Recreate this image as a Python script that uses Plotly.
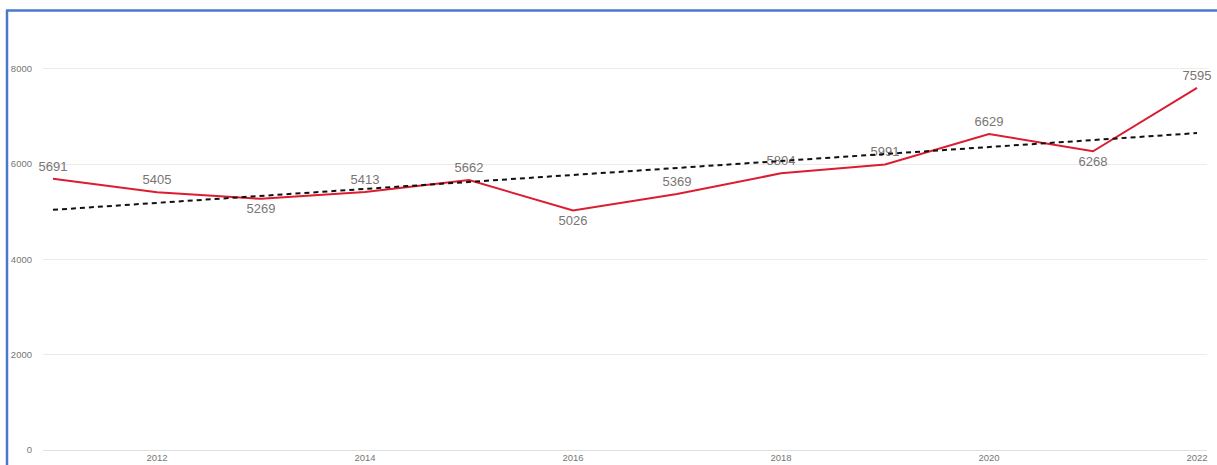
import numpy as np
import plotly.graph_objects as go

years = [2011, 2012, 2013, 2014, 2015, 2016, 2017, 2018, 2019, 2020, 2021, 2022]
values = [5691, 5405, 5269, 5413, 5662, 5026, 5369, 5804, 5991, 6629, 6268, 7595]
label_pos = ["top center", "top center", "bottom center", "top center", "top center",
             "bottom center", "top center", "top center", "top center", "top center",
             "bottom center", "top center"]
x_ticks = [2012, 2014, 2016, 2018, 2020, 2022]
y_ticks = [0, 2000, 4000, 6000, 8000]

# linear trend line (least squares over the series)
slope, intercept = np.polyfit(years, values, 1)
trend_x = [years[0], years[-1]]
trend_y = [slope * x + intercept for x in trend_x]

fig = go.Figure()
fig.add_trace(go.Scatter(
    x=years, y=values, mode="lines+markers+text",
    text=[str(v) for v in values], textposition=label_pos,
    textfont=dict(family="Liberation Sans, Arial", size=13, color="#7A7575"),
    line=dict(color="#DC1C30", width=2),
    marker=dict(size=6, color="rgba(0,0,0,0)"),
    showlegend=False, cliponaxis=False,
))
fig.add_trace(go.Scatter(
    x=trend_x, y=trend_y, mode="lines",
    line=dict(color="#111111", width=2, dash="5px,4px"),
    showlegend=False, hoverinfo="skip",
))

W, H = 1217, 465
L, R, T, B = 43, 10, 21, 15
pw, ph = W - L - R, H - T - B

fig.update_layout(
    width=W, height=H,
    margin=dict(l=L, r=R, t=T, b=B, autoexpand=False),
    paper_bgcolor="white", plot_bgcolor="white",
    font=dict(family="Liberation Sans, Arial", color="#767676"),
    xaxis=dict(range=[2010.904, 2022.096], tickvals=x_ticks, ticktext=[str(t) for t in x_ticks],
               showgrid=False, zeroline=False, showline=False,
               tickfont=dict(size=9.5, color="#767676"), ticks="", automargin=False),
    yaxis=dict(range=[0, 9000], tickvals=y_ticks, ticktext=[str(t) for t in y_ticks],
               showgrid=True, gridcolor="#EBEBEB", gridwidth=1, zeroline=True,
               zerolinecolor="#E0E0E0", zerolinewidth=1, showline=False,
               tickfont=dict(size=9.5, color="#767676"), ticks="", ticklabelstandoff=10,
               automargin=False),
    shapes=[
        dict(type="line", xref="paper", yref="paper",
             x0=(7 - L) / pw, x1=(7 - L) / pw, y0=1 + (T - 10) / ph, y1=-B / ph - 0.01,
             line=dict(color="#4A78CF", width=2.5)),
        dict(type="line", xref="paper", yref="paper",
             x0=(6 - L) / pw, x1=(W - L) / pw, y0=1 + (T - 10.5) / ph, y1=1 + (T - 10.5) / ph,
             line=dict(color="#4A78CF", width=2.5)),
    ],
)

fig.write_html(
    "out.html",
    config={"displayModeBar": False},
    post_script="document.body.style.margin='0px';document.body.style.overflow='hidden';",
)
